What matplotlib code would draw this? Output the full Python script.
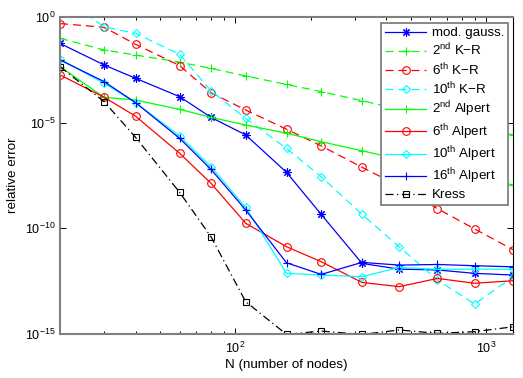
import numpy as np
import matplotlib
matplotlib.use("Agg")
import matplotlib.pyplot as plt
from matplotlib.ticker import FixedLocator, LogFormatterMathtext, NullFormatter

plt.rcParams['font.family'] = ['Liberation Sans', 'DejaVu Sans']
plt.rcParams['mathtext.fontset'] = 'custom'
plt.rcParams['mathtext.rm'] = 'Liberation Sans'
plt.rcParams['mathtext.it'] = 'Liberation Sans:italic'
plt.rcParams['lines.dashed_pattern'] = [6.4, 4.0]
plt.rcParams['lines.dashdot_pattern'] = [6.4, 2.8, 1.0, 2.8]

# number of nodes
N = [20, 30, 40, 60, 80, 110, 160, 220, 320, 450, 640, 900, 1280]

# log10 of the relative error
mod_gauss = [-1.25, -2.27, -2.90, -3.77, -4.75, -5.58, -7.35, -9.34, -11.66, -11.93, -11.97, -12.13, -12.21]
kr2 = [-1.01, -1.56, -1.80, -2.14, -2.43, -2.79, -3.19, -3.53, -3.96, -4.36, -4.77, -5.17, -5.58]
kr6 = [-0.31, -0.49, -1.29, -2.30, -3.58, -4.40, -5.31, -6.10, -7.11, -8.0, -9.07, -10.03, -11.01]
kr10 = [1.0, -0.47, -0.77, -1.77, -3.49, -4.80, -6.22, -7.56, -9.34, -10.87, -12.45, -13.58, -12.30]
alpert2 = [-2.35, -3.80, -3.93, -4.37, -4.75, -5.11, -5.50, -5.90, -6.33, -6.73, -7.14, -7.54, -7.95]
alpert6 = [-2.74, -3.80, -4.69, -6.45, -7.87, -9.76, -10.87, -11.58, -12.56, -12.76, -12.37, -12.60, -12.48]
alpert10 = [-2.00, -3.14, -4.05, -5.63, -7.08, -9.01, -12.13, -12.21, -12.29, -11.85, -11.94, -11.93, -11.94]
alpert16 = [-2.03, -3.06, -4.05, -5.74, -7.21, -9.13, -11.63, -12.18, -11.61, -11.74, -11.71, -11.77, -11.82]
kress = [-2.35, -4.01, -5.69, -8.30, -10.40, -13.47, -15.02, -14.86, -15.02, -14.81, -14.97, -14.89, -14.66]

asterisk = (8, 2, 0)
series = [
    ("mod. gauss.", mod_gauss, "#0000ff", "-", asterisk, 6),
    (r"2$^{\rm nd}$ K$-$R", kr2, "#00ff00", "--", "+", 6),
    (r"6$^{\rm th}$ K$-$R", kr6, "#ff0000", "--", "o", 5.5),
    (r"10$^{\rm th}$ K$-$R", kr10, "#00ffff", "--", "D", 4.5),
    (r"2$^{\rm nd}$ Alpert", alpert2, "#00ff00", "-", "+", 6),
    (r"6$^{\rm th}$ Alpert", alpert6, "#ff0000", "-", "o", 5.5),
    (r"10$^{\rm th}$ Alpert", alpert10, "#00ffff", "-", "D", 4.5),
    (r"16$^{\rm th}$ Alpert", alpert16, "#0000ff", "-", "+", 6),
    ("Kress", kress, "#000000", "-.", "s", 4.2),
]

fig = plt.figure(figsize=(5.23, 3.78), dpi=100)
ax = fig.add_axes([60 / 523, 44 / 378, 453 / 523, 317 / 378])

for label, vals, color, ls, mk, ms in series:
    ax.plot(N, 10.0 ** np.array(vals), color=color, linestyle=ls, marker=mk,
            markersize=ms, markerfacecolor="none",
            markeredgecolor=color, markeredgewidth=0.8, linewidth=0.9,
            label=label)

ax.set_xscale("log")
ax.set_yscale("log")
ax.set_xlim(20, 1280)
ax.set_ylim(1e-15, 1)

ax.yaxis.set_major_locator(FixedLocator([1e-15, 1e-10, 1e-5, 1e0]))
ax.yaxis.set_major_formatter(LogFormatterMathtext())
ax.yaxis.set_minor_locator(FixedLocator([]))
ax.xaxis.set_major_locator(FixedLocator([1e2, 1e3]))
ax.xaxis.set_major_formatter(LogFormatterMathtext())
minors = [m * d for d in (10, 100) for m in range(2, 10)]
ax.xaxis.set_minor_locator(FixedLocator([v for v in minors if 20 < v < 1280]))
ax.xaxis.set_minor_formatter(NullFormatter())

ax.tick_params(which="both", direction="in", top=True, right=True, labelsize=9,
               color="black", width=0.7)
ax.tick_params(which="major", length=4)
ax.tick_params(which="minor", length=2.5)
ax.tick_params(axis="x", pad=5)

for side in ("left", "bottom", "top"):
    ax.spines[side].set_color("#808080")
    ax.spines[side].set_linewidth(1.5)
ax.spines["right"].set_color("black")
ax.spines["right"].set_linewidth(0.8)

ax.set_xlabel("N (number of nodes)", fontsize=9.6, labelpad=2)
ax.set_ylabel("relative error", fontsize=9.6, labelpad=4)

leg = ax.legend(loc="upper right", bbox_to_anchor=(0.989, 0.981), fontsize=9.6,
                handlelength=3.1, handletextpad=0.4, labelspacing=0.2,
                borderpad=0.3, borderaxespad=0, fancybox=False, framealpha=1,
                edgecolor="#808080")
leg.get_frame().set_linewidth(1.3)

fig.savefig("out.png", dpi=100)
